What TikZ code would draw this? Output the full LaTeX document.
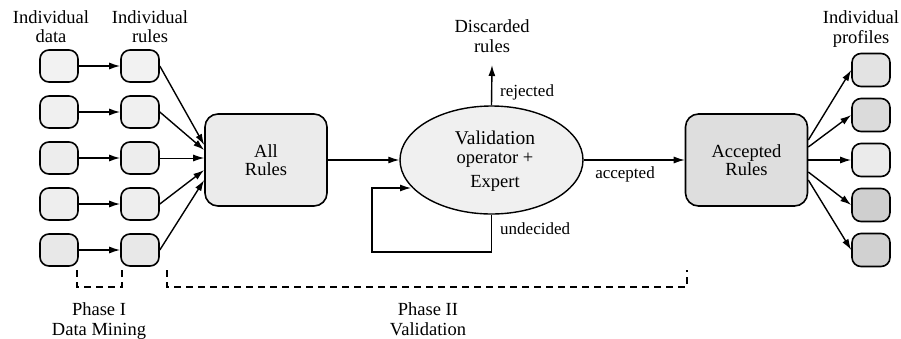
\documentclass[tikz,border=0pt]{standalone}
\usepackage{fontspec}
\setmainfont{Liberation Serif}
\usetikzlibrary{arrows.meta,shapes.geometric}

\begin{document}
\begin{tikzpicture}[x=1pt,y=-1pt,
  lbl/.style={font=\fontsize{18.5}{19.5}\selectfont, align=center, inner sep=0pt},
  small/.style={font=\fontsize{17}{18}\selectfont, inner sep=0pt},
  cell/.style={draw, line width=1.6pt, rounded corners=9pt, minimum width=38pt,
               minimum height=32pt, inner sep=0pt, fill=gray!12},
  bigbox/.style={draw, line width=1.6pt, rounded corners=13pt, minimum width=122pt,
               minimum height=92pt, inner sep=0pt, align=center,
               font=\fontsize{18.5}{18.5}\selectfont},
  arr/.style={line width=1.4pt, -{Latex[length=11pt,width=7pt]}},
  phase/.style={line width=1.3pt, dash pattern=on 7pt off 5pt}
]
\useasboundingbox (0,0) rectangle (901,338);

% column headings
\node[lbl] (hdata)  at (51,26.5)  {Individual\\data};
\node[lbl] (hrules) at (150,26.5) {Individual\\rules};
\node[lbl] (hprof)  at (861,29)   {Individual\\profiles};
\node[lbl] (disc)   at (492,36)   {Discarded\\rules};

% individual data and individual rules
\foreach \i/\y/\f in {1/66/10,2/112/12,3/158/14,4/204/13,5/250/18}{
  \node[cell, fill=gray!\f] (d\i) at (59,\y)  {};
  \node[cell, fill=gray!\f] (r\i) at (140,\y) {};
  \draw[arr] (d\i.east) -- (r\i.west);
}

% all rules
\node[bigbox, fill=gray!16] (allR) at (266,160) {All\\Rules};

\draw[arr] (r1.east) -- ([yshift=15pt]allR.west);
\draw[arr] (r2.east) -- ([yshift=10pt]allR.west);
\draw[arr, line width=1pt] (r3.east) -- (r3.east -| allR.west);
\draw[arr] (r4.east) -- ([yshift=-10pt]allR.west);
\draw[arr] (r5.east) -- ([yshift=-20pt]allR.west);

% validation operator
\node[draw, ellipse, line width=1.4pt, fill=gray!12, minimum width=183pt,
      minimum height=108pt, inner sep=0pt] (val) at (491.5,160) {};
\node[lbl, font=\fontsize{18.5}{19}\selectfont] (vtxt) at (495,161)
  {{\fontsize{19.5}{19}\selectfont Validation}\\operator +\\[5pt]Expert};

\draw[arr, line width=1.1pt] (allR.east) -- (val.west);

% rejected
\coordinate (discTip) at (492,65);
\draw[arr] (val.north) -- (discTip);
\node[small, anchor=west] (rej) at (500,92) {rejected};

% undecided loop
\coordinate (loopB) at (372,252);
\coordinate (loopIn) at (411,188);
\draw[arr, line width=1.2pt] (val.south) |- (loopB) |- (loopIn);
\node[small, anchor=west] (und) at (500,229) {undecided};

% accepted rules
\node[bigbox, fill=gray!26] (acc) at (746.5,160) {Accepted\\Rules};
\draw[arr, line width=1.1pt] (val.east) -- (acc.west);
\node[small] (acctxt) at (625,174) {accepted};

% individual profiles
\foreach \i/\y/\f in {1/70/22,2/115/28,3/160/16,4/205/38,5/250/36}{
  \node[cell, minimum height=33pt, fill=gray!\f] (p\i) at (871,\y) {};
}
\draw[arr] ([yshift=20pt]acc.east) -- (p1.west);
\draw[arr] ([yshift=13pt]acc.east) -- (p2.west);
\draw[arr] (acc.east) -- (p3.west);
\draw[arr] ([yshift=-12pt]acc.east) -- (p4.west);
\draw[arr] ([yshift=-20pt]acc.east) -- (p5.west);

% phase brackets
\coordinate (pIa) at (77,270);
\coordinate (pIb) at (122,270);
\draw[phase] (pIa) -- ++(0,17) -| (pIb);
\coordinate (pIIa) at (167,270);
\coordinate (pIIb) at (687,270);
\draw[phase] (pIIa) -- ++(0,17) -| (pIIb);

\node[lbl] (ph1) at (99,321) {Phase I\\Data Mining};
\node[lbl] (ph2) at (428,319) {Phase II\\Validation};
\end{tikzpicture}
\end{document}
